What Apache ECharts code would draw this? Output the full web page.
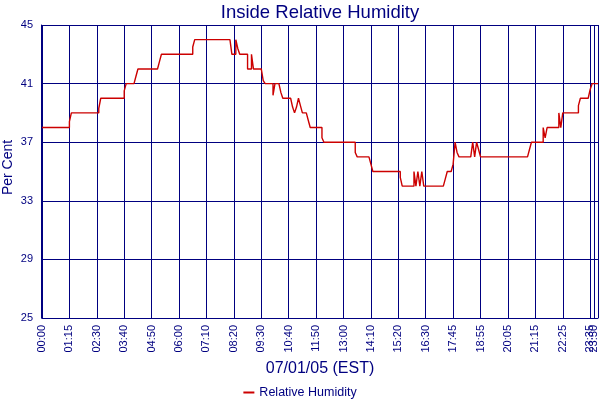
<!DOCTYPE html>
<html>
<head>
<meta charset="utf-8">
<script src="https://cdn.jsdelivr.net/npm/echarts@6/dist/echarts.min.js"></script>
<style>
html,body{margin:0;padding:0;background:#fff;}
#c{width:600px;height:400px;}
</style>
</head>
<body>
<div id="c"></div>
<script>
// Tick label positions (sample index) and texts on the time axis
const tickIndex = [0,14,28,42,56,70,84,98,112,126,140,154,168,182,196,210,224,238,252,266,280,282];
const tickLabels = ['00:00','01:15','02:30','03:40','04:50','06:00','07:10','08:20','09:30','10:40','11:50','13:00','14:10','15:20','16:30','17:45','18:55','20:05','21:15','22:25','23:35','23:50'];
const gridIndex = tickIndex.concat([284]);
const yTicks = [25,29,33,37,41,45];

// Relative humidity samples (per cent), one per sample index 0..284
const humidity = [
  // 0-14
  38,38,38,38,38,38,38,38,38,38,38,38,38,38,38.4,
  // 15-29
  39,39,39,39,39,39,39,39,39,39,39,39,39,39,39.3,
  // 30-42
  40,40,40,40,40,40,40,40,40,40,40,40,40.5,
  // 43-48
  41,41,41,41,41,41.5,
  // 49-60
  42,42,42,42,42,42,42,42,42,42,42,42.5,
  // 61-77
  43,43,43,43,43,43,43,43,43,43,43,43,43,43,43,43,43.5,
  // 78-96
  44,44,44,44,44,44,44,44,44,44,44,44,44,44,44,44,44,44,44,
  // 97-100
  43,43,44,43.4,
  // 101-107
  43,43,43,43,42,42,43,
  // 108-113
  42,42,42,42,42,41.2,
  // 114-118
  41,41,41,41,40.2,
  // 119-122
  41,41,41,40.4,
  // 123-132
  40,40,40,40,40,39.4,39,39.4,40,39.5,
  // 133-136
  39,39,39,38.5,
  // 137-143
  38,38,38,38,38,38,37.3,
  // 144-160
  37,37,37,37,37,37,37,37,37,37,37,37,37,37,37,37,36.3,
  // 161-168
  36,36,36,36,36,36,36,35.5,
  // 169-183
  35,35,35,35,35,35,35,35,35,35,35,35,35,35,34.6,
  // 184-194
  34,34,34,34,34,34,35,34,35,34,35,
  // 195-206
  34,34,34,34,34,34,34,34,34,34,34,34.5,
  // 207-212
  35,35,35,35.5,37,36.3,
  // 213-223
  36,36,36,36,36,36,36,37,36,37,36.5,
  // 224-249
  36,36,36,36,36,36,36,36,36,36,36,36,36,36,36,36,36,36,36,36,36,36,36,36,36,36.5,
  // 250-257
  37,37,37,37,37,37,38,37.3,
  // 258-265
  38,38,38,38,38,38,39,38,
  // 266-274
  39,39,39,39,39,39,39,39,39.5,
  // 275-280
  40,40,40,40,40,40.6,
  // 281-284
  41,41,41,41
];

// Category list built from the tick arrays (blank where no label)
const categories = humidity.map(function(_, i){
  const k = tickIndex.indexOf(i);
  return k >= 0 ? tickLabels[k] : '';
});
const lastTick = tickIndex[tickIndex.length - 1];

const NAVY = '#000080';
const FONT = '"Liberation Sans", Arial, sans-serif';
const labelBase = {rotate: 90, margin: 7, color: NAVY, fontFamily: FONT, fontSize: 11, hideOverlap: false};

const chart = echarts.init(document.getElementById('c'), null, {renderer:'canvas'});
chart.setOption({
  animation: false,
  backgroundColor: '#ffffff',
  title: {
    text: 'Inside Relative Humidity',
    left: 320,
    textAlign: 'center',
    top: 3,
    padding: 0,
    textStyle: {color: NAVY, fontFamily: FONT, fontSize: 18.5, fontWeight: 'normal'}
  },
  legend: {
    data: ['Relative Humidity'],
    left: 'center',
    top: 381,
    icon: 'rect',
    itemWidth: 11,
    itemHeight: 2,
    textStyle: {color: NAVY, fontFamily: FONT, fontSize: 12.5}
  },
  grid: {left: 42, right: 2, top: 25, bottom: 82, containLabel: false, outerBoundsMode: 'none'},
  xAxis: [{
    type: 'category',
    data: categories,
    boundaryGap: false,
    name: '07/01/05 (EST)',
    nameLocation: 'middle',
    nameGap: 40,
    nameTextStyle: {color: NAVY, fontFamily: FONT, fontSize: 16},
    axisLine: {show: true, lineStyle: {color: NAVY, width: 1}},
    axisTick: {show: false},
    axisLabel: Object.assign({}, labelBase, {
      interval: function(i){ return i !== lastTick && tickIndex.indexOf(i) >= 0; }
    }),
    splitLine: {
      show: true,
      interval: function(i){ return gridIndex.indexOf(i) >= 0; },
      lineStyle: {color: NAVY, width: 1}
    }
  }, {
    type: 'category',
    data: categories,
    boundaryGap: false,
    position: 'bottom',
    gridIndex: 0,
    axisLine: {show: false},
    axisTick: {show: false},
    splitLine: {show: false},
    axisLabel: Object.assign({}, labelBase, {
      interval: function(i){ return i === lastTick; }
    })
  }],
  yAxis: {
    type: 'value',
    min: yTicks[0],
    max: yTicks[yTicks.length-1],
    interval: 4,
    offset: 1,
    name: 'Per Cent',
    nameLocation: 'middle',
    nameGap: 26,
    nameMoveOverlap: false,
    nameTextStyle: {color: NAVY, fontFamily: FONT, fontSize: 14, padding: [0, 0, 0, 8]},
    axisLine: {show: true, lineStyle: {color: NAVY, width: 1}},
    axisTick: {show: false},
    axisLabel: {color: NAVY, fontFamily: FONT, fontSize: 11, margin: 8},
    splitLine: {show: true, lineStyle: {color: NAVY, width: 1}}
  },
  series: [{
    name: 'Relative Humidity',
    type: 'line',
    step: 'end',
    xAxisIndex: 0,
    data: humidity,
    showSymbol: false,
    symbol: 'none',
    lineStyle: {color: '#cc0000', width: 1.4},
    itemStyle: {color: '#cc0000'}
  }]
});
</script>
</body>
</html>
